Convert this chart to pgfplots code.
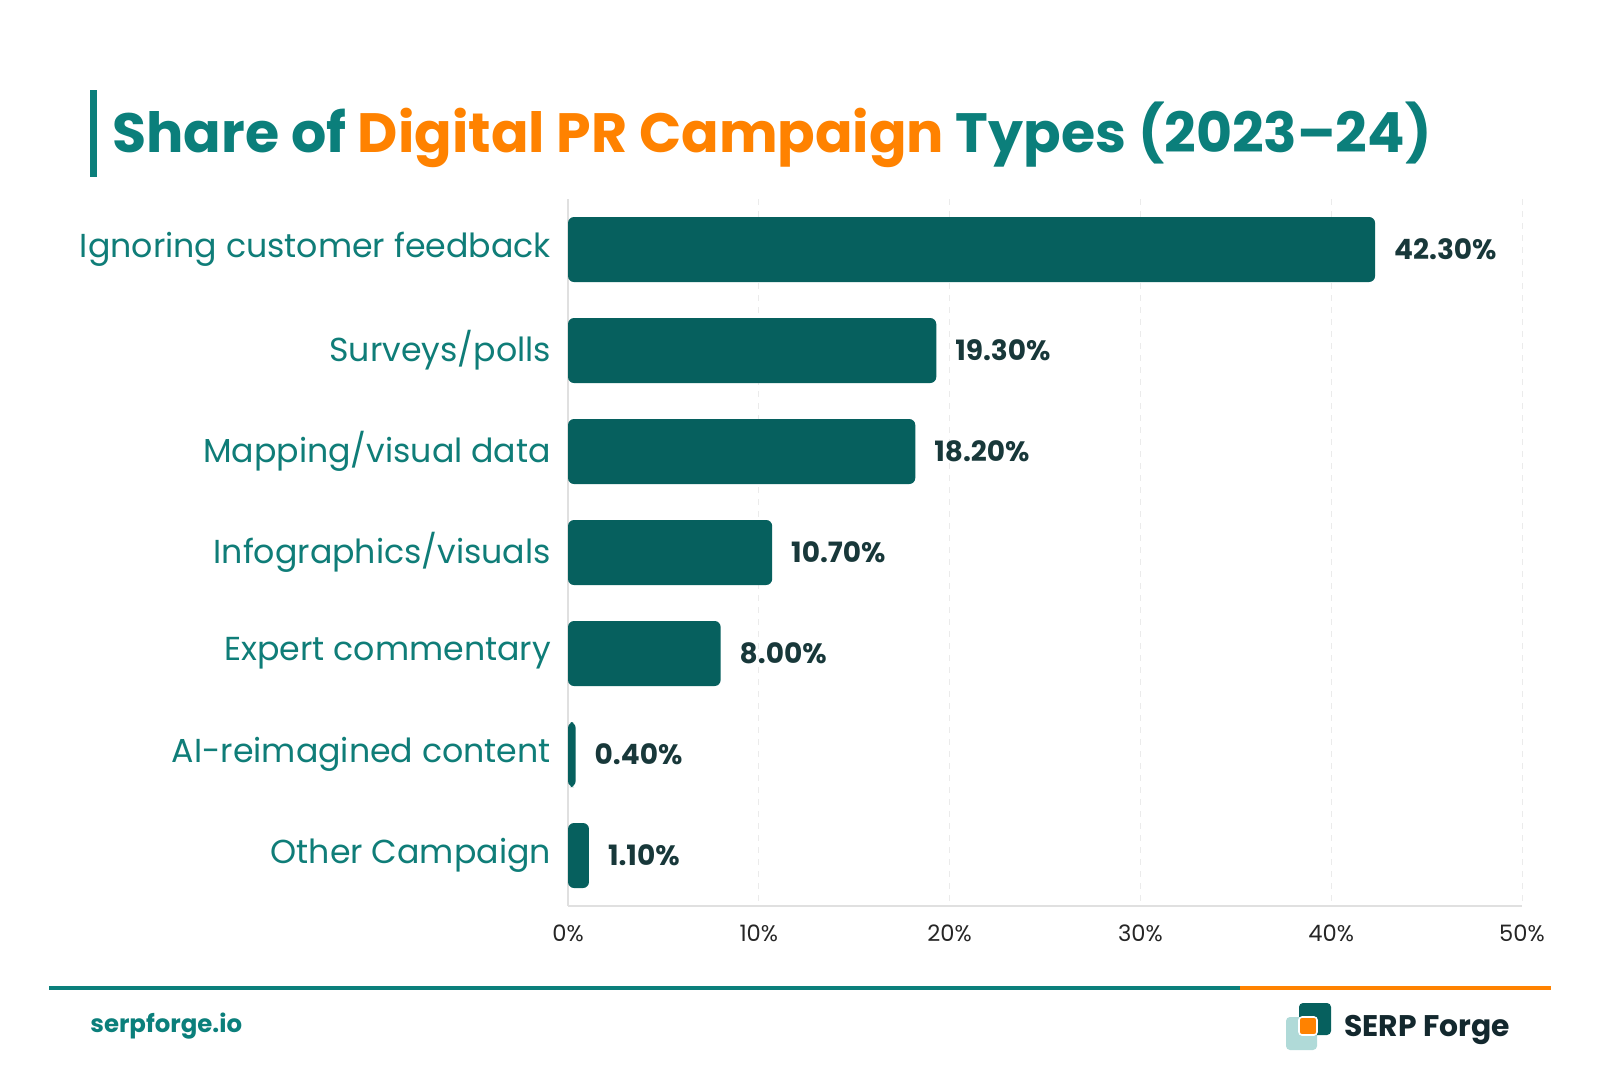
\documentclass[border=0pt]{standalone}
\usepackage{fontspec}
\setmainfont{Poppins}
\usepackage{pgfplots}
\pgfplotsset{compat=1.18}
\definecolor{tealT}{RGB}{11,127,123}
\definecolor{orangeT}{RGB}{255,130,0}
\definecolor{barC}{RGB}{6,96,94}
\definecolor{labT}{RGB}{15,125,120}
\definecolor{valT}{RGB}{24,56,58}
\definecolor{lightT}{RGB}{176,218,216}
\definecolor{darkT}{RGB}{19,40,46}
\begin{document}
\begin{tikzpicture}[x=1pt,y=1pt]
\path[use as bounding box,fill=white] (0pt,0pt) rectangle (800pt,533.5pt);
% title
\fill[tealT] (45pt,445pt) rectangle (48.5pt,488.5pt);
\node[anchor=base west,inner sep=0pt,text=tealT,font=\fontsize{27.7}{32}\selectfont\bfseries] at (56pt,457pt)
  {Share of \textcolor{orangeT}{Digital PR Campaign} Types (2023–24)};
\begin{axis}[
  at={(522.5pt,257.25pt)}, anchor=center,
  scale only axis, width=477pt, height=353.5pt,
  xbar, bar width=32.5pt,
  xmin=0, xmax=50, ymin=-0.5, ymax=6.5, y dir=reverse,
  ytick={0,...,6},
  yticklabels={Ignoring customer feedback,Surveys/polls,Mapping/visual data,Infographics/visuals,Expert commentary,AI-reimagined content,Other Campaign},
  yticklabel style={font=\fontsize{16.6}{19}\selectfont,text=labT,xshift=-5pt},
  xtick={0,10,...,50},
  xticklabel={\pgfmathprintnumber{\tick}\%},
  xticklabel style={font=\fontsize{11.3}{13}\selectfont,text=black!85,yshift=-6pt},
  /pgf/number format/assume math mode=true,
  major tick length=0pt,
  axis x line*=bottom, axis y line*=left,
  axis line style={draw=black!12,line width=0.8pt},
  xmajorgrids, grid style={draw=black!8,dashed,line width=0.5pt},
  nodes near coords={\pgfmathprintnumber[fixed,fixed zerofill,precision=2]{\pgfplotspointmeta}\%},
  nodes near coords style={font=\fontsize{14}{16}\selectfont\bfseries,text=valT,anchor=west,xshift=6pt},
  point meta=explicit,
]
\addplot[fill=barC,draw=none,rounded corners=3pt] coordinates {
(42.3,0) [42.3]
(19.3,1) [19.3]
(18.2,2) [18.2]
(10.7,3) [10.7]
(8.0,4) [8.0]
(0.4,5) [0.4]
(1.1,6) [1.1]
};
\end{axis}
% footer
\draw[tealT,line width=2pt] (24.5pt,39.5pt) -- (620pt,39.5pt);
\draw[orangeT,line width=2pt] (620pt,39.5pt) -- (775.5pt,39.5pt);
\node[anchor=west,inner sep=0pt,text=tealT,font=\fontsize{12.2}{14}\selectfont\bfseries] at (45pt,20.5pt) {serpforge.io};
\fill[lightT,rounded corners=2pt] (643pt,8.5pt) rectangle (658.5pt,25pt);
\fill[barC,rounded corners=2pt] (649.5pt,16pt) rectangle (665.5pt,32pt);
\fill[orangeT,rounded corners=1.5pt,draw=white,line width=0.8pt] (649.5pt,16pt) rectangle (658.5pt,25pt);
\node[anchor=west,inner sep=0pt,text=darkT,font=\fontsize{14.9}{17}\selectfont\bfseries] at (672pt,18.5pt) {SERP Forge};
\end{tikzpicture}
\end{document}
